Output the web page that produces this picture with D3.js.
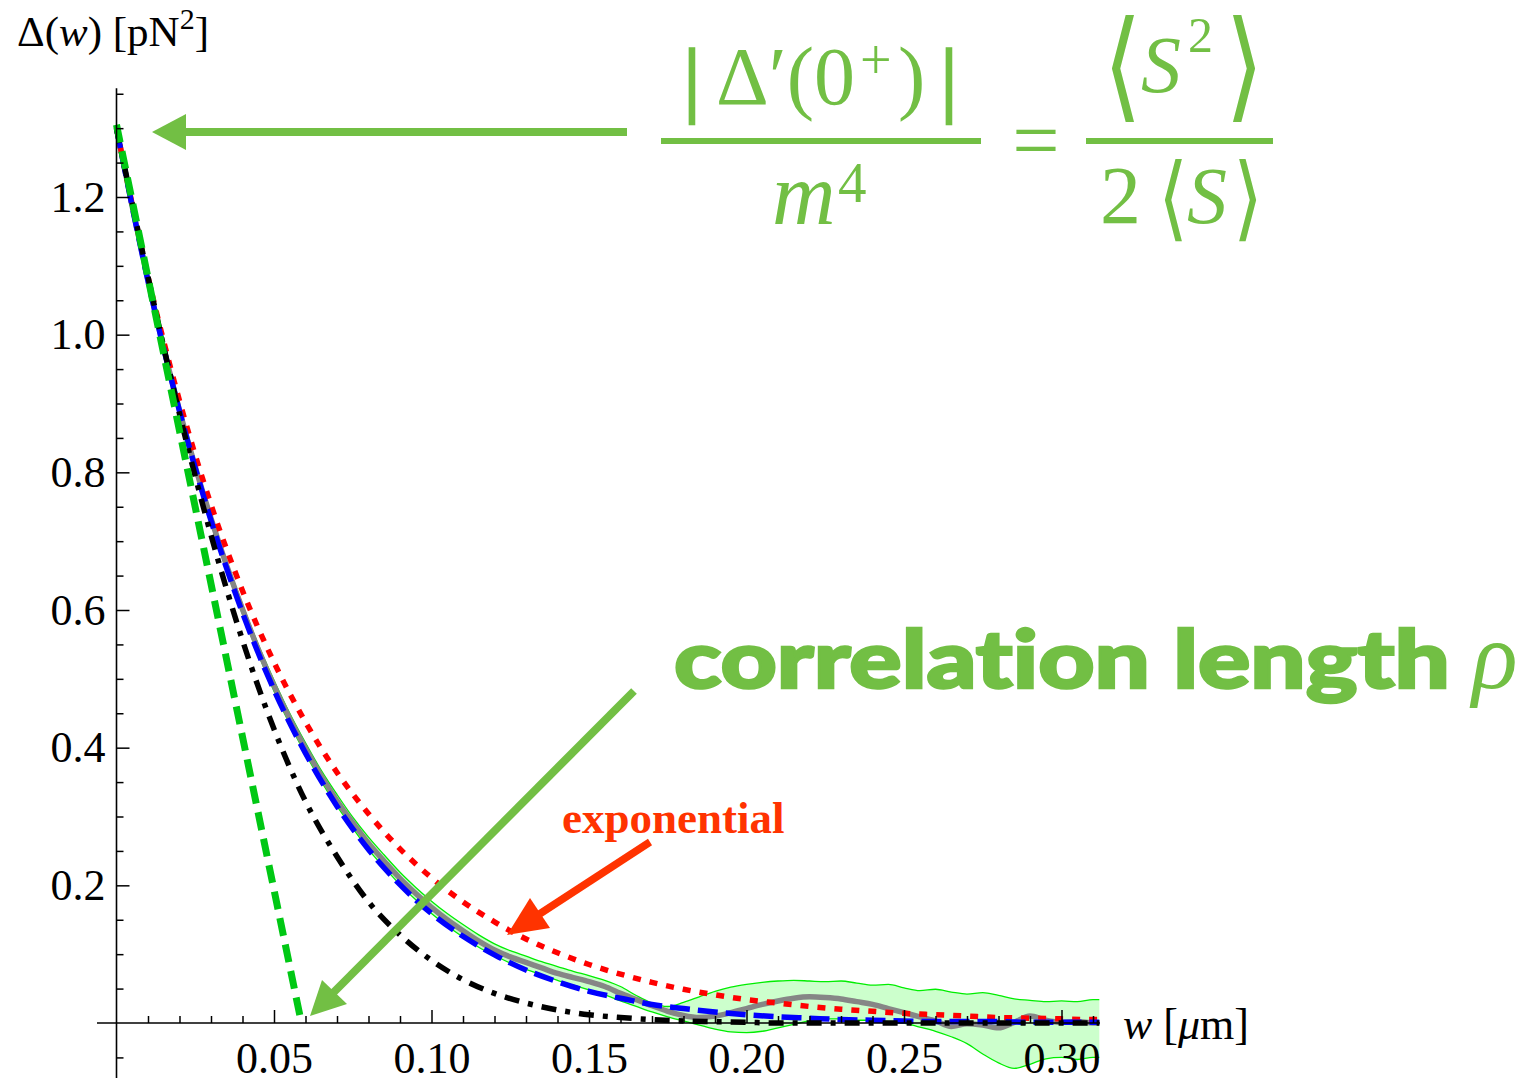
<!DOCTYPE html>
<html>
<head>
<meta charset="utf-8">
<script src="https://cdn.jsdelivr.net/npm/d3@7"></script>
<style>
  body { margin: 0; background: #fff; }
  svg { display: block; }
  text { font-family: "Liberation Serif", "Times New Roman", serif; font-variant-ligatures: none; }
</style>
</head>
<body>
<svg id="chart" width="1535" height="1078"></svg>
<script>
// ---- model curves, sampled every 0.01 µm ----
const curveW = [0, 0.01, 0.02, 0.03, 0.04, 0.05, 0.06, 0.07, 0.08, 0.09, 0.10,
  0.11, 0.12, 0.13, 0.14, 0.15, 0.16, 0.17, 0.18, 0.19, 0.20,
  0.21, 0.22, 0.23, 0.24, 0.25, 0.26, 0.27, 0.28, 0.29, 0.30, 0.31, 0.312];
const exponentialFit = [1.300, 1.084, 0.904, 0.753, 0.628, 0.524, 0.437, 0.364, 0.304, 0.253, 0.211,
  0.176, 0.147, 0.122, 0.102, 0.085, 0.071, 0.059, 0.049, 0.041, 0.034,
  0.029, 0.024, 0.020, 0.017, 0.014, 0.012, 0.010, 0.008, 0.007, 0.006, 0.005, 0.005];
const theoryFit = [1.300, 1.078, 0.889, 0.730, 0.596, 0.484, 0.392, 0.315, 0.252, 0.201, 0.159,
  0.126, 0.099, 0.077, 0.060, 0.046, 0.036, 0.027, 0.021, 0.016, 0.012,
  0.009, 0.007, 0.005, 0.004, 0.003, 0.002, 0.002, 0.002, 0.001, 0.001, 0.001, 0.001];
const gaussianFit = [1.300, 1.084, 0.885, 0.709, 0.556, 0.427, 0.322, 0.242, 0.176, 0.128, 0.091,
  0.063, 0.043, 0.029, 0.019, 0.012, 0.008, 0.005, 0.003, 0.002, 0.001,
  0.000, 0.000, 0.000, 0.000, 0.000, 0.000, 0.000, 0.000, 0.000, 0.000, 0.000, 0.000];

// ---- measured correlator with its error band, sampled every 0.005 µm ----
const sampleW = [0, 0.005, 0.010, 0.015, 0.020, 0.025, 0.030, 0.035, 0.040, 0.045,
  0.050, 0.055, 0.060, 0.065, 0.070, 0.075, 0.080, 0.085, 0.090, 0.095,
  0.100, 0.105, 0.110, 0.115, 0.120, 0.125, 0.130, 0.135, 0.140, 0.145,
  0.150, 0.155, 0.160, 0.165, 0.170, 0.175, 0.180, 0.185, 0.190, 0.195,
  0.200, 0.205, 0.210, 0.215, 0.220, 0.225, 0.230, 0.235, 0.240, 0.245,
  0.250, 0.255, 0.260, 0.265, 0.270, 0.275, 0.280, 0.285, 0.290, 0.295,
  0.300, 0.305, 0.310, 0.312];
const measured = [1.300, 1.186, 1.079, 0.980, 0.890, 0.808, 0.733, 0.664, 0.601, 0.543,
  0.490, 0.442, 0.399, 0.359, 0.323, 0.291, 0.261, 0.235, 0.210, 0.188,
  0.168, 0.150, 0.134, 0.119, 0.106, 0.096, 0.088, 0.080, 0.072, 0.066,
  0.060, 0.053, 0.043, 0.034, 0.025, 0.017, 0.011, 0.008, 0.010, 0.015,
  0.021, 0.027, 0.032, 0.036, 0.038, 0.037, 0.035, 0.031, 0.027, 0.021,
  0.015, 0.009, 0.003, -0.005, -0.001, -0.003, -0.007, 0.001, 0.010, 0.004,
  0.001, 0.002, 0.000, 0.000];
const bandUpper = [1.300, 1.188, 1.083, 0.985, 0.896, 0.815, 0.740, 0.671, 0.608, 0.550,
  0.498, 0.450, 0.407, 0.367, 0.332, 0.299, 0.270, 0.244, 0.219, 0.197,
  0.177, 0.159, 0.143, 0.128, 0.115, 0.105, 0.097, 0.089, 0.082, 0.075,
  0.069, 0.062, 0.053, 0.040, 0.029, 0.024, 0.030, 0.038, 0.046, 0.052,
  0.056, 0.059, 0.061, 0.062, 0.061, 0.060, 0.061, 0.058, 0.055, 0.056,
  0.051, 0.047, 0.049, 0.045, 0.042, 0.044, 0.040, 0.035, 0.033, 0.031,
  0.032, 0.031, 0.034, 0.034];
const bandLower = [1.300, 1.184, 1.075, 0.975, 0.884, 0.801, 0.726, 0.657, 0.594, 0.536,
  0.482, 0.434, 0.391, 0.351, 0.315, 0.283, 0.252, 0.226, 0.201, 0.179,
  0.159, 0.141, 0.125, 0.110, 0.098, 0.087, 0.078, 0.070, 0.062, 0.055,
  0.048, 0.041, 0.032, 0.024, 0.016, 0.009, 0.003, -0.003, -0.009, -0.013,
  -0.014, -0.012, -0.007, -0.002, 0.003, 0.006, 0.006, 0.004, 0.004, 0.002,
  0.000, -0.006, -0.012, -0.020, -0.030, -0.045, -0.058, -0.066, -0.060, -0.052,
  -0.050, -0.053, -0.050, -0.050];

// ---- slope at the origin: straight line down to the w axis ----
const tangentW = [0, 0.0583];
const tangentD = [1.305, 0.009];

// ---- axes ----
const xMajorTicks = [0.05, 0.10, 0.15, 0.20, 0.25, 0.30];
const xTickLabels = ["0.05", "0.10", "0.15", "0.20", "0.25", "0.30"];
const yMajorTicks = [0.2, 0.4, 0.6, 0.8, 1.0, 1.2];
const yTickLabels = ["0.2", "0.4", "0.6", "0.8", "1.0", "1.2"];
const xExtent = [-0.0062, 0.3122];
const yExtent = [-0.08, 1.358];

const GREEN = "#72bf44";
const RED = "#ff3300";

const svg = d3.select("#chart");
const x = d3.scaleLinear().domain([0, 0.30]).range([116.5, 1061.5]);
const y = d3.scaleLinear().domain([0, 1.2]).range([1023, 197]);

const pairs = (ws, vs) => ws.map((w, i) => [w, vs[i]]);
const line = d3.line().x(d => x(d[0])).y(d => y(d[1])).curve(d3.curveMonotoneX);
const plot = svg.append("g");

// error band
plot.append("path")
  .datum(sampleW.map((w, i) => [w, bandLower[i], bandUpper[i]]))
  .attr("fill", "#ccffcc")
  .attr("d", d3.area().x(d => x(d[0])).y0(d => y(d[1])).y1(d => y(d[2])).curve(d3.curveMonotoneX));
[bandUpper, bandLower].forEach(b => {
  plot.append("path").datum(pairs(sampleW, b))
    .attr("fill", "none").attr("stroke", "#00ee00").attr("stroke-width", 1.3)
    .attr("d", line);
});

// measured correlator
plot.append("path").datum(pairs(sampleW, measured))
  .attr("fill", "none").attr("stroke", "#868686").attr("stroke-width", 5.5)
  .attr("stroke-linejoin", "round").attr("d", line);

// exponential (red dotted)
plot.append("path").datum(pairs(curveW, exponentialFit))
  .attr("fill", "none").attr("stroke", "#ff0000").attr("stroke-width", 5.5)
  .attr("stroke-dasharray", "8 9").attr("d", line);

// blue dashed
plot.append("path").datum(pairs(curveW, theoryFit))
  .attr("fill", "none").attr("stroke", "#0000ff").attr("stroke-width", 5.5)
  .attr("stroke-dasharray", "20 8").attr("d", line);

// black dash-dot
plot.append("path").datum(pairs(curveW, gaussianFit))
  .attr("fill", "none").attr("stroke", "#000").attr("stroke-width", 5.5)
  .attr("stroke-dasharray", "15 9 5 9").attr("d", line);

// tangent at the origin
plot.append("path").datum(pairs(tangentW, tangentD))
  .attr("fill", "none").attr("stroke", "#00c814").attr("stroke-width", 7)
  .attr("stroke-dasharray", "18 9")
  .attr("d", d3.line().x(d => x(d[0])).y(d => y(d[1])));

// ---- axes ----
const axes = svg.append("g");
axes.append("line").attr("x1", x(xExtent[0])).attr("x2", x(xExtent[1]))
  .attr("y1", y(0)).attr("y2", y(0)).attr("stroke", "#000").attr("stroke-width", 1.6);
axes.append("line").attr("x1", x(0)).attr("x2", x(0))
  .attr("y1", y(yExtent[1])).attr("y2", y(yExtent[0])).attr("stroke", "#000").attr("stroke-width", 1.6);

const xMinor = d3.range(1, 32).map(i => i / 100).filter(v => Math.round(v * 100) % 5 !== 0);
const yMinor = d3.range(-1, 28).map(i => i * 0.05).filter(v => Math.round(v * 100) % 20 !== 0);

const styleAxis = g => {
  g.select(".domain").remove();
  g.selectAll(".tick line").attr("stroke", "#000").attr("stroke-width", 1.5);
  g.selectAll(".tick text").attr("fill", "#000")
    .style("font-family", "'Liberation Serif', serif").style("font-size", "44px");
};

axes.append("g").attr("transform", `translate(0,${y(0)})`)
  .call(d3.axisBottom(x).tickValues(xMinor).tickSizeInner(-7).tickSizeOuter(0).tickFormat(""))
  .call(styleAxis);
axes.append("g").attr("transform", `translate(0,${y(0)})`)
  .call(d3.axisBottom(x).tickValues(xMajorTicks).tickSizeInner(-13).tickSizeOuter(0)
    .tickPadding(19).tickFormat((d, i) => xTickLabels[i]))
  .call(styleAxis);
axes.append("g").attr("transform", `translate(${x(0)},0)`)
  .call(d3.axisLeft(y).tickValues(yMinor).tickSizeInner(-7).tickSizeOuter(0).tickFormat(""))
  .call(styleAxis);
axes.append("g").attr("transform", `translate(${x(0)},0)`)
  .call(d3.axisLeft(y).tickValues(yMajorTicks).tickSizeInner(-13).tickSizeOuter(0)
    .tickPadding(11).tickFormat((d, i) => yTickLabels[i]))
  .call(styleAxis);

// axis titles
const yTitle = svg.append("text").attr("x", 17).attr("y", 46).attr("font-size", 43);
yTitle.append("tspan").text("Δ(");
yTitle.append("tspan").attr("font-style", "italic").text("w");
yTitle.append("tspan").text(") [pN");
yTitle.append("tspan").attr("font-size", 30).attr("dy", -17).text("2");
yTitle.append("tspan").attr("dy", 17).text("]");

const xTitle = svg.append("text").attr("x", 1123).attr("y", 1039).attr("font-size", 44);
xTitle.append("tspan").attr("font-style", "italic").text("w");
xTitle.append("tspan").text(" [");
xTitle.append("tspan").attr("font-style", "italic").text("μ");
xTitle.append("tspan").text("m]");

// ---- annotations ----
const ann = svg.append("g");
const txt = (s, px, py, size, opt = {}) => {
  const t = ann.append("text").attr("x", px).attr("y", py).attr("font-size", size)
    .attr("fill", opt.fill || GREEN).text(s);
  if (opt.italic) t.attr("font-style", "italic");
  if (opt.family) t.style("font-family", opt.family);
  if (opt.anchor) t.attr("text-anchor", opt.anchor);
  if (opt.weight) t.attr("font-weight", opt.weight);
  if (opt.stroke) t.attr("stroke", opt.fill || GREEN).attr("stroke-width", opt.stroke);
  return t;
};
// stretched delimiter glyph (angle brackets of the formula)
const delim = (s, px, py, size, sy) => ann.append("text")
  .attr("transform", `translate(${px},${py}) scale(1,${sy})`)
  .attr("font-size", size).attr("fill", GREEN)
  .style("font-family", "'DejaVu Sans', 'DejaVu Serif', sans-serif").text(s);

// |Δ'(0+)| / m^4
txt("|", 692, 106, 82, { anchor: "middle", stroke: 2.5 });
txt("Δ′(0", 716, 104, 82);
txt("+", 860, 79, 56);
txt(")", 898, 104, 82);
txt("|", 949, 106, 82, { anchor: "middle", stroke: 2.5 });
ann.append("rect").attr("x", 661).attr("y", 138).attr("width", 320).attr("height", 6).attr("fill", GREEN);
txt("m", 772, 224, 88, { italic: true });
txt("4", 838, 202, 57);

// =
txt("=", 1036, 169, 84, { anchor: "middle" });

// <S^2> / 2<S>
delim("⟨", 1103, 106, 100, 1.2);
txt("S", 1141, 92, 80, { italic: true });
txt("2", 1188, 52, 50);
delim("⟩", 1225, 106, 100, 1.2);
ann.append("rect").attr("x", 1086).attr("y", 138).attr("width", 187).attr("height", 6).attr("fill", GREEN);
txt("2", 1100, 223, 82);
delim("⟨", 1158, 229, 77, 1.2);
txt("S", 1187, 223, 80, { italic: true });
delim("⟩", 1233, 229, 77, 1.2);

// arrow pointing at Δ(0)
ann.append("line").attr("x1", 627).attr("y1", 132).attr("x2", 183).attr("y2", 132)
  .attr("stroke", GREEN).attr("stroke-width", 8);
ann.append("polygon").attr("points", "152,132 186,114 186,150").attr("fill", GREEN);

// correlation length
txt("correlation length", 674, 688, 80, { family: "Lato, 'Open Sans', sans-serif", weight: 900, stroke: 2.5 })
  .attr("textLength", 776).attr("lengthAdjust", "spacingAndGlyphs");
txt("ρ", 1472, 688, 95, { italic: true });
ann.append("line").attr("x1", 634).attr("y1", 691).attr("x2", 333).attr("y2", 993)
  .attr("stroke", GREEN).attr("stroke-width", 8);
ann.append("polygon").attr("points", "310,1016 322,980 347,1004").attr("fill", GREEN);

// exponential label
txt("exponential", 562, 833, 45, { fill: RED, weight: "bold" });
ann.append("line").attr("x1", 650).attr("y1", 842).attr("x2", 538).attr("y2", 915)
  .attr("stroke", RED).attr("stroke-width", 7.5);
ann.append("polygon").attr("points", "507,935 550,928 530,898").attr("fill", RED);
</script>
</body>
</html>
